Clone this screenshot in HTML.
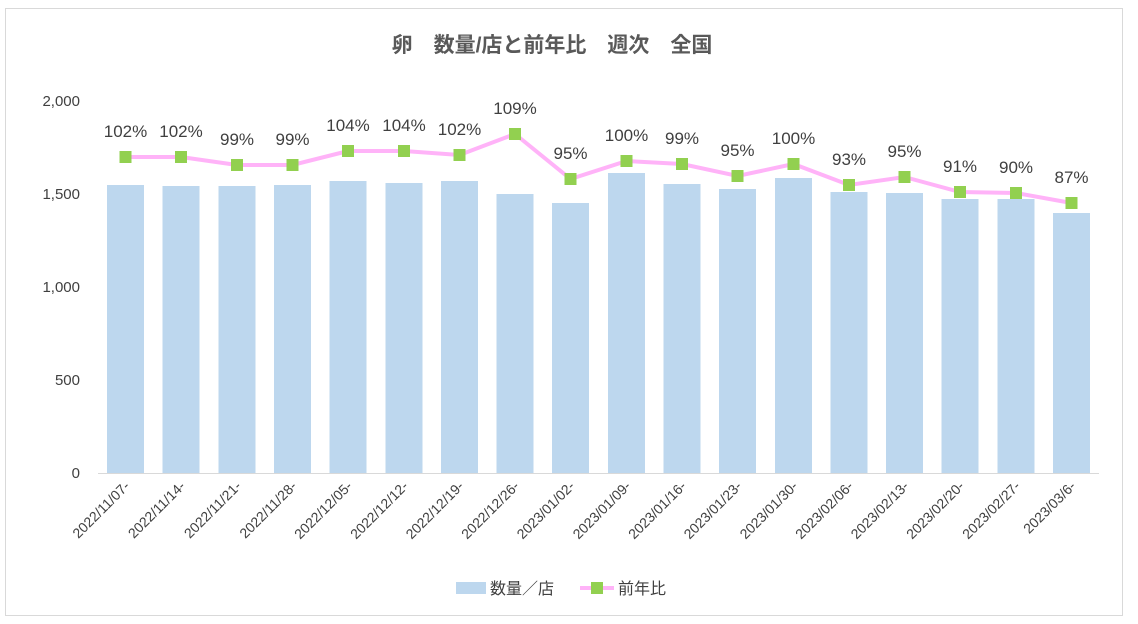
<!DOCTYPE html><html><head><meta charset="utf-8"><style>body{margin:0;background:#fff}svg{display:block}text{font-family:"Liberation Sans","Noto Sans CJK JP",sans-serif}</style></head><body>
<svg width="1138" height="624" xmlns="http://www.w3.org/2000/svg">
<rect x="5.5" y="8.5" width="1117" height="607" fill="#fff" stroke="#d9d9d9"/>
<text x="552" y="52" text-anchor="middle" font-size="21" font-weight="bold" fill="#595959">卵　数量/店と前年比　週次　全国</text>
<g font-size="15" fill="#404040" text-anchor="end">
<text x="80" y="478">0</text><text x="80" y="385">500</text><text x="80" y="292">1,000</text><text x="80" y="199">1,500</text><text x="80" y="106">2,000</text></g>
<g fill="#BDD7EE">
<rect x="107" y="185" width="37" height="288"/>
<rect x="162.5" y="186" width="37" height="287"/>
<rect x="218.5" y="186" width="37" height="287"/>
<rect x="274" y="185" width="37" height="288"/>
<rect x="329.5" y="181" width="37" height="292"/>
<rect x="385.5" y="183" width="37" height="290"/>
<rect x="441" y="181" width="37" height="292"/>
<rect x="496.5" y="194" width="37" height="279"/>
<rect x="552" y="203" width="37" height="270"/>
<rect x="608" y="173" width="37" height="300"/>
<rect x="663.5" y="184" width="37" height="289"/>
<rect x="719" y="189" width="37" height="284"/>
<rect x="775" y="178" width="37" height="295"/>
<rect x="830.5" y="192" width="37" height="281"/>
<rect x="886" y="193" width="37" height="280"/>
<rect x="941.5" y="199" width="37" height="274"/>
<rect x="997.5" y="199" width="37" height="274"/>
<rect x="1053" y="213" width="37" height="260"/>
</g>
<line x1="98" y1="473.5" x2="1099" y2="473.5" stroke="#d9d9d9"/>
<g font-size="14" fill="#404040" text-anchor="end">
<text transform="translate(130.5,487) rotate(-45)">2022/11/07-</text>
<text transform="translate(186,487) rotate(-45)">2022/11/14-</text>
<text transform="translate(242,487) rotate(-45)">2022/11/21-</text>
<text transform="translate(297.5,487) rotate(-45)">2022/11/28-</text>
<text transform="translate(353,487) rotate(-45)">2022/12/05-</text>
<text transform="translate(409,487) rotate(-45)">2022/12/12-</text>
<text transform="translate(464.5,487) rotate(-45)">2022/12/19-</text>
<text transform="translate(520,487) rotate(-45)">2022/12/26-</text>
<text transform="translate(575.5,487) rotate(-45)">2023/01/02-</text>
<text transform="translate(631.5,487) rotate(-45)">2023/01/09-</text>
<text transform="translate(687,487) rotate(-45)">2023/01/16-</text>
<text transform="translate(742.5,487) rotate(-45)">2023/01/23-</text>
<text transform="translate(798.5,487) rotate(-45)">2023/01/30-</text>
<text transform="translate(854,487) rotate(-45)">2023/02/06-</text>
<text transform="translate(909.5,487) rotate(-45)">2023/02/13-</text>
<text transform="translate(965,487) rotate(-45)">2023/02/20-</text>
<text transform="translate(1021,487) rotate(-45)">2023/02/27-</text>
<text transform="translate(1076.5,487) rotate(-45)">2023/03/6-</text>
</g>
<polyline points="125.5,157 181,157 237,165 292.5,165 348,151 404,151 459.5,155 515,134 570.5,179 626.5,161 682,164 737.5,176 793.5,164 849,185 904.5,177 960,192 1016,193 1071.5,203" fill="none" stroke="#FFB3F8" stroke-width="4"/>
<g fill="#92D050">
<rect x="119.5" y="151" width="12" height="12"/>
<rect x="175" y="151" width="12" height="12"/>
<rect x="231" y="159" width="12" height="12"/>
<rect x="286.5" y="159" width="12" height="12"/>
<rect x="342" y="145" width="12" height="12"/>
<rect x="398" y="145" width="12" height="12"/>
<rect x="453.5" y="149" width="12" height="12"/>
<rect x="509" y="128" width="12" height="12"/>
<rect x="564.5" y="173" width="12" height="12"/>
<rect x="620.5" y="155" width="12" height="12"/>
<rect x="676" y="158" width="12" height="12"/>
<rect x="731.5" y="170" width="12" height="12"/>
<rect x="787.5" y="158" width="12" height="12"/>
<rect x="843" y="179" width="12" height="12"/>
<rect x="898.5" y="171" width="12" height="12"/>
<rect x="954" y="186" width="12" height="12"/>
<rect x="1010" y="187" width="12" height="12"/>
<rect x="1065.5" y="197" width="12" height="12"/>
</g>
<g font-size="17" fill="#404040" text-anchor="middle">
<text x="125.5" y="137">102%</text>
<text x="181" y="137">102%</text>
<text x="237" y="145">99%</text>
<text x="292.5" y="145">99%</text>
<text x="348" y="131">104%</text>
<text x="404" y="131">104%</text>
<text x="459.5" y="135">102%</text>
<text x="515" y="114">109%</text>
<text x="570.5" y="159">95%</text>
<text x="626.5" y="141">100%</text>
<text x="682" y="144">99%</text>
<text x="737.5" y="156">95%</text>
<text x="793.5" y="144">100%</text>
<text x="849" y="165">93%</text>
<text x="904.5" y="157">95%</text>
<text x="960" y="172">91%</text>
<text x="1016" y="173">90%</text>
<text x="1071.5" y="183">87%</text>
</g>
<rect x="456" y="582" width="30" height="12" fill="#BDD7EE"/>
<text x="490" y="594" font-size="16" fill="#404040">数量／店</text>
<line x1="580" y1="588" x2="614" y2="588" stroke="#FFB3F8" stroke-width="4"/>
<rect x="591" y="582" width="12" height="12" fill="#92D050"/>
<text x="618" y="594" font-size="16" fill="#404040">前年比</text>
</svg></body></html>
